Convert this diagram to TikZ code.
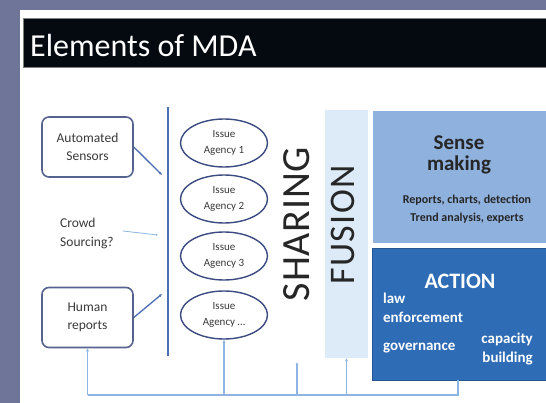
\documentclass[tikz,border=0pt]{standalone}
\usepackage{fontspec}
\setmainfont{Carlito}
\usepackage{tikz}
\usetikzlibrary{shapes,arrows.meta,positioning,calc}
\usepackage{xcolor}
\definecolor{slideframe}{HTML}{6F7599}
\definecolor{titlebar}{HTML}{040A10}
\definecolor{boxline}{HTML}{56638F}
\definecolor{ovalline}{HTML}{3C4C82}
\definecolor{linkblue}{HTML}{4A6FB5}
\definecolor{feedblue}{HTML}{8EB4E3}
\definecolor{fusionfill}{HTML}{DDEBF8}
\definecolor{sensefill}{HTML}{8FB1DD}
\definecolor{actionfill}{HTML}{2E6CB5}
\definecolor{darktext}{HTML}{3A3A3A}

\begin{document}
\begin{tikzpicture}[x=1pt, y=-1pt, every node/.style={inner sep=0pt, text=darktext},
    source/.style={draw=boxline, line width=1.6pt, rounded corners=7pt, minimum width=91pt, minimum height=60pt, align=center, font=\fontsize{13.5}{18}\selectfont},
    agency/.style={draw=ovalline, line width=1.4pt, ellipse, minimum width=87pt, minimum height=48pt, align=center, font=\fontsize{11}{16}\selectfont},
    link/.style={draw=linkblue, line width=1.3pt, -{Latex[length=3pt,width=3pt]}},
    feed/.style={draw=feedblue, line width=1.2pt},
    feedin/.style={feed, -{Latex[length=3pt,width=3pt]}},
    actword/.style={text=white, font=\bfseries\fontsize{15}{19}\selectfont, align=left}]
                    \useasboundingbox (0,0) rectangle (546,403);
                    \fill[slideframe] (0,0) rectangle (546,403);
                    \fill[white] (20,10) rectangle (546,403);
                    \fill[titlebar, draw=gray, line width=1pt] (23,19) rectangle (547,68);
                    \node[anchor=base west, text=white, font=\fontsize{32}{40}\selectfont] (Title) at (30,57) {Elements of MDA};
                    \node[source] (Sensors) at (87.5,147) {Automated\\Sensors};
                    \node[source] (Human) at (87.5,317.5) {Human\\reports};
                    \node[anchor=west, align=left, font=\fontsize{13.5}{19}\selectfont] (Crowd) at (60,233) {Crowd\\Sourcing?};
                    \coordinate (BarTop) at (168,107);
                    \coordinate (BarBot) at (168,356);
                    \draw[draw=linkblue, line width=1.6pt] (BarTop) -- (BarBot);
                    \coordinate (SensorsIn) at (162,175);
                    \coordinate (HumanIn) at (162,294);
                    \coordinate (CrowdIn) at (158,235);
                    \draw[link] (Sensors.east) -- (SensorsIn);
                    \draw[link] (Human.east) -- (HumanIn);
                    \draw[draw=feedblue, line width=0.8pt, -{Latex[length=2pt,width=2pt]}] ([xshift=9pt,yshift=2pt]Crowd.east) -- (CrowdIn);
                    \node[agency] (Agency1) at (224,143) {Issue\\Agency 1};
                    \node[agency] (Agency2) at (224,199) {Issue\\Agency 2};
                    \node[agency] (Agency3) at (224,256) {Issue\\Agency 3};
                    \node[agency] (Agency4) at (224,315) {Issue\\Agency \dots};
                    \node[rotate=90, text=black!85, font=\addfontfeature{LetterSpace=2}\fontsize{40}{40}\selectfont] (Sharing) at (297,224) {SHARING};
                    \node[fill=fusionfill, minimum width=43pt, minimum height=248pt] (Fusion) at (346.5,234) {};
                    \node[rotate=90, text=black!85, font=\addfontfeature{LetterSpace=4}\fontsize{36}{40}\selectfont] (FusionText) at (343,225) {FUSION};
                    \node[fill=sensefill, minimum width=174pt, minimum height=132pt] (Sense) at (459.5,177) {};
                    \node[align=center, text=black!85, font=\bfseries\fontsize{21}{21}\selectfont] (SenseTitle) at (459,155) {Sense\\making};
                    \node[align=center, text=black!85, font=\bfseries\fontsize{12}{18}\selectfont] (SenseText) at (467,209) {Reports, charts, detection\\Trend analysis, experts};
                    \node[fill=actionfill, draw=actionfill!80!black, line width=0.6pt, minimum width=174pt, minimum height=132pt] (Action) at (459.5,314) {};
                    \node[text=white, font=\bfseries\fontsize{22}{24}\selectfont] (ActionTitle) at (460,281) {ACTION};
                    \node[actword, anchor=west] (Law) at (383,307.5) {law\\enforcement};
                    \node[actword, anchor=west] (Gov) at (383,348) {governance};
                    \node[actword, anchor=east, align=right] (Capacity) at (533,349) {capacity\\building};
                    \coordinate (LoopR) at (458,395);
                    \coordinate (LoopL) at (87.5,395);
                    \coordinate (SharingIn) at (297,362);
                    \draw[feed] (Action.south -| LoopR) -- (LoopR) -- (LoopL);
                    \draw[feedin] (LoopL) -- (Human.south);
                    \draw[feedin] (Agency4.south |- LoopL) -- (Agency4.south);
                    \draw[feedin] (SharingIn |- LoopL) -- (SharingIn);
                    \draw[feedin] (Fusion.south |- LoopL) -- (Fusion.south);
                \end{tikzpicture}
\end{document}
